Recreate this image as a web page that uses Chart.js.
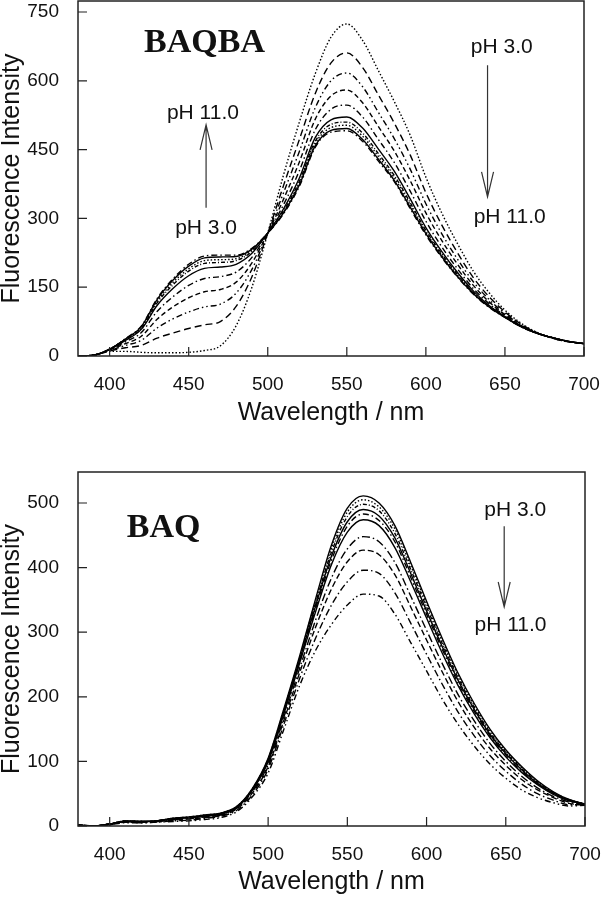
<!DOCTYPE html>
<html>
<head>
<meta charset="utf-8">
<script src="https://cdn.jsdelivr.net/npm/chart.js@4"></script>
<style>
  html, body { margin: 0; padding: 0; background: #fff; }
  body { width: 602px; height: 900px; position: relative; overflow: hidden; }
  canvas { position: absolute; left: 0; }
  #topChart { top: 0; }
  #bottomChart { top: 450px; }
</style>
</head>
<body>
<canvas id="topChart" width="602" height="450"></canvas>
<canvas id="bottomChart" width="602" height="450"></canvas>
<script>
// Wavelength grid (nm)
const wavelengths = [380, 390, 400, 410, 420, 430, 440, 450, 460, 470, 480, 490, 500, 510, 520, 530, 540,
  550, 560, 570, 580, 590, 600, 610, 620, 630, 640, 650, 660, 670, 680, 690, 700];

// BAQBA spectra, pH 3.0 -> pH 11.0
const baqba1 = [0, 2, 10, 10, 8, 7, 7, 8, 12, 22, 66, 150, 268, 395, 510, 615, 695, 724, 688, 622, 555, 482, 390, 312, 245, 185, 138, 100, 72, 52, 39, 31, 27];
const baqba2 = [0, 2, 11, 18, 23, 39, 50, 60, 68, 75, 108, 173, 268, 372, 472, 572, 639, 661, 629, 569, 508, 439, 356, 286, 225, 171, 129, 96, 70, 51, 39, 31, 27];
const baqba3 = [0, 2, 12, 23, 34, 61, 81, 96, 107, 113, 137, 189, 268, 356, 446, 541, 600, 617, 587, 531, 474, 408, 332, 267, 211, 162, 123, 93, 68, 51, 39, 31, 27];
const baqba4 = [0, 2, 13, 27, 43, 80, 107, 127, 140, 145, 161, 203, 268, 342, 423, 516, 567, 580, 552, 500, 447, 383, 312, 252, 200, 154, 118, 90, 67, 51, 40, 32, 27];
const baqba5 = [0, 2, 14, 31, 51, 97, 129, 154, 169, 173, 183, 215, 268, 330, 404, 493, 538, 547, 521, 472, 422, 360, 294, 238, 190, 147, 114, 88, 66, 50, 40, 32, 27];
const baqba6 = [0, 2, 14, 34, 58, 110, 147, 175, 191, 194, 200, 224, 268, 321, 388, 476, 515, 521, 497, 451, 403, 343, 280, 228, 182, 142, 110, 86, 65, 50, 40, 32, 27];
const baqba7 = [0, 2, 15, 36, 60, 116, 155, 185, 202, 204, 208, 228, 268, 317, 381, 468, 505, 510, 486, 441, 394, 335, 274, 223, 178, 139, 109, 85, 65, 50, 40, 32, 27];
const baqba8 = [0, 2, 15, 37, 62, 119, 160, 190, 208, 210, 212, 231, 268, 314, 377, 463, 498, 503, 479, 435, 389, 330, 270, 220, 176, 138, 108, 85, 64, 50, 40, 32, 27];
const baqba9 = [0, 2, 15, 37, 64, 123, 165, 196, 214, 216, 217, 233, 268, 312, 373, 458, 492, 496, 472, 429, 383, 325, 267, 217, 173, 136, 107, 84, 64, 50, 40, 32, 27];
const baqba10 = [0, 2, 15, 38, 65, 125, 168, 200, 218, 220, 220, 235, 268, 310, 370, 455, 488, 491, 468, 425, 380, 322, 264, 215, 172, 135, 106, 84, 64, 50, 40, 32, 27];

// BAQ spectra, pH 3.0 -> pH 11.0
const baq1 = [2, 0, 3, 8, 7, 8, 12, 14, 17, 20, 30, 58, 105, 182, 264, 352, 435, 492, 511, 500, 465, 408, 348, 290, 236, 190, 150, 118, 92, 70, 53, 41, 34];
const baq2 = [2, 0, 3, 8, 7, 8, 12, 14, 17, 20, 30, 57, 104, 181, 262, 349, 430, 486, 505, 494, 460, 403, 344, 286, 233, 187, 148, 116, 91, 69, 52, 41, 34];
const baq3 = [2, 0, 3, 8, 7, 8, 12, 13, 16, 19, 29, 57, 103, 179, 260, 345, 424, 479, 498, 488, 453, 397, 339, 282, 229, 184, 145, 114, 89, 68, 52, 40, 34];
const baq4 = [1, 0, 3, 7, 7, 8, 11, 13, 16, 19, 29, 56, 102, 178, 258, 341, 418, 471, 490, 480, 446, 391, 333, 277, 225, 181, 142, 112, 87, 66, 51, 40, 34];
const baq5 = [1, 0, 3, 7, 7, 8, 11, 13, 16, 19, 28, 56, 101, 176, 255, 337, 412, 464, 483, 473, 440, 385, 328, 273, 221, 178, 140, 110, 85, 65, 50, 39, 34];
const baq6 = [1, 0, 3, 7, 7, 8, 11, 13, 15, 18, 28, 55, 99, 174, 253, 332, 405, 455, 474, 465, 431, 378, 322, 267, 217, 174, 137, 107, 83, 64, 49, 39, 34];
const baq7 = [1, 0, 3, 7, 6, 7, 10, 11, 14, 17, 27, 53, 95, 169, 245, 319, 384, 429, 448, 440, 408, 356, 303, 251, 203, 163, 128, 100, 77, 59, 46, 37, 33];
const baq8 = [1, 0, 3, 6, 6, 7, 9, 11, 13, 16, 26, 51, 92, 164, 238, 308, 367, 409, 427, 420, 389, 339, 288, 238, 192, 153, 120, 94, 72, 56, 44, 35, 33];
const baq9 = [0, 0, 2, 6, 5, 6, 8, 9, 12, 15, 24, 48, 88, 158, 229, 291, 342, 378, 396, 391, 361, 314, 266, 219, 176, 140, 109, 85, 65, 50, 40, 33, 33];
const baq10 = [0, 0, 2, 5, 5, 6, 7, 8, 10, 13, 22, 45, 82, 150, 218, 272, 312, 342, 359, 356, 328, 284, 240, 196, 157, 124, 96, 74, 56, 44, 36, 31, 32];

const baqbaSeries = [baqba1, baqba2, baqba3, baqba4, baqba5, baqba6, baqba7, baqba8, baqba9, baqba10];
const baqSeries = [baq1, baq2, baq3, baq4, baq5, baq6, baq7, baq8, baq9, baq10];

// Line styles for the ten curves of each panel
const baqbaDashes = [
  [1.5, 2],
  [7, 4],
  [6, 3, 1.5, 3, 1.5, 3],
  [5, 3],
  [6, 3, 1.5, 3],
  [],
  [4, 2, 1, 2],
  [1.5, 2],
  [],
  [6, 3, 1.5, 3],
];
const baqDashes = [
  [],
  [1.5, 2],
  [4, 2, 1, 2],
  [],
  [6, 3, 1.5, 3],
  [],
  [8, 3, 1.5, 3],
  [6, 3],
  [7, 3, 1.5, 3],
  [6, 3, 1.5, 3, 1.5, 3],
];

const sansFont = "'Liberation Sans', Arial, sans-serif";
const serifFont = "'Liberation Serif', 'Times New Roman', serif";

// Frame, inward ticks and text annotations
const notesPlugin = {
  id: "notes",
  afterDraw(chart, args, opts) {
    const { ctx, chartArea: a, scales } = chart;
    const xs = scales.x;
    const ys = scales.y;
    ctx.save();
    ctx.strokeStyle = "#222";
    ctx.lineWidth = 1.5;
    ctx.strokeRect(a.left, a.top, a.right - a.left, a.bottom - a.top);

    ctx.lineWidth = 1.2;
    ctx.beginPath();
    xs.ticks.forEach((t) => {
      const px = xs.getPixelForValue(t.value);
      ctx.moveTo(px, a.bottom);
      ctx.lineTo(px, a.bottom - 9);
    });
    ys.ticks.forEach((t) => {
      const py = ys.getPixelForValue(t.value);
      ctx.moveTo(a.left, py);
      ctx.lineTo(a.left + 9, py);
    });
    ctx.stroke();

    ctx.fillStyle = "#111";
    ctx.textAlign = "center";
    ctx.textBaseline = "middle";
    (opts.labels || []).forEach((l) => {
      ctx.font = l.font;
      ctx.fillText(l.text, xs.getPixelForValue(l.x), ys.getPixelForValue(l.y));
    });

    ctx.strokeStyle = "#333";
    ctx.lineWidth = 1.2;
    (opts.arrows || []).forEach((ar) => {
      const px = xs.getPixelForValue(ar.x);
      const y0 = ys.getPixelForValue(ar.from);
      const y1 = ys.getPixelForValue(ar.to);
      const dir = y1 > y0 ? 1 : -1;
      ctx.beginPath();
      ctx.moveTo(px, y0);
      ctx.lineTo(px, y1);
      ctx.moveTo(px - 6, y1 - dir * 25);
      ctx.lineTo(px, y1);
      ctx.lineTo(px + 6, y1 - dir * 25);
      ctx.stroke();
    });
    ctx.restore();
  },
};

// Build one spectrum panel
function buildChart(canvasId, series, dashes, yMax, yStep, layoutPad, xAxisHeight, xTitlePad, notes) {
  const ctx = document.getElementById(canvasId).getContext("2d");
  const datasets = series.map((values, i) => ({
    data: values,
    borderColor: "#000",
    borderWidth: 1.4,
    borderDash: dashes[i],
    pointRadius: 0,
    fill: false,
    cubicInterpolationMode: "monotone",
  }));

  return new Chart(ctx, {
    type: "line",
    data: { labels: wavelengths, datasets: datasets },
    options: {
      responsive: false,
      animation: false,
      layout: { padding: layoutPad },
      plugins: {
        legend: { display: false },
        tooltip: { enabled: false },
        notes: notes,
      },
      scales: {
        x: {
          type: "linear",
          min: 380,
          max: 700,
          grid: { display: false },
          border: { display: false },
          ticks: {
            stepSize: 50,
            includeBounds: false,
            padding: 9,
            color: "#111",
            font: { family: sansFont, size: 19 },
          },
          title: {
            display: true,
            text: "Wavelength / nm",
            color: "#111",
            font: { family: sansFont, size: 25, lineHeight: 1.2 },
            padding: { top: 0, bottom: xTitlePad },
          },
          afterFit(scale) {
            scale.height = xAxisHeight;
            scale.paddingLeft = 0;
            scale.paddingRight = 0;
          },
        },
        y: {
          min: 0,
          max: yMax,
          grid: { display: false },
          border: { display: false },
          ticks: {
            stepSize: yStep,
            includeBounds: false,
            padding: 11,
            color: "#111",
            font: { family: sansFont, size: 19 },
          },
          title: {
            display: true,
            text: "Fluorescence Intensity",
            color: "#111",
            font: { family: sansFont, size: 25, lineHeight: 1 },
            padding: { top: 0, bottom: 0 },
          },
          afterFit(scale) {
            scale.width = 78;
            scale.paddingTop = 0;
            scale.paddingBottom = 0;
          },
        },
      },
    },
    plugins: [notesPlugin],
  });
}

// Top panel: BAQBA
buildChart("topChart", baqbaSeries, baqbaDashes, 774, 150, { top: 1, right: 18, left: 0, bottom: 0 }, 94, 22, {
  labels: [
    { text: "BAQBA", x: 460, y: 682, font: "bold 34px " + serifFont },
    { text: "pH 11.0", x: 459, y: 530, font: "21px " + sansFont },
    { text: "pH 3.0", x: 461, y: 279, font: "21px " + sansFont },
    { text: "pH 3.0", x: 648, y: 674, font: "21px " + sansFont },
    { text: "pH 11.0", x: 653, y: 303, font: "21px " + sansFont },
  ],
  arrows: [
    { x: 461, from: 323, to: 504 },
    { x: 639, from: 634, to: 347 },
  ],
});

// Bottom panel: BAQ
buildChart("bottomChart", baqSeries, baqDashes, 548, 100, { top: 22, right: 17, left: 0, bottom: 0 }, 74, 3, {
  labels: [
    { text: "BAQ", x: 434, y: 461, font: "bold 34px " + serifFont },
    { text: "pH 3.0", x: 656, y: 489, font: "21px " + sansFont },
    { text: "pH 11.0", x: 653, y: 311, font: "21px " + sansFont },
  ],
  arrows: [
    { x: 649, from: 464, to: 339 },
  ],
});
</script>
</body>
</html>
